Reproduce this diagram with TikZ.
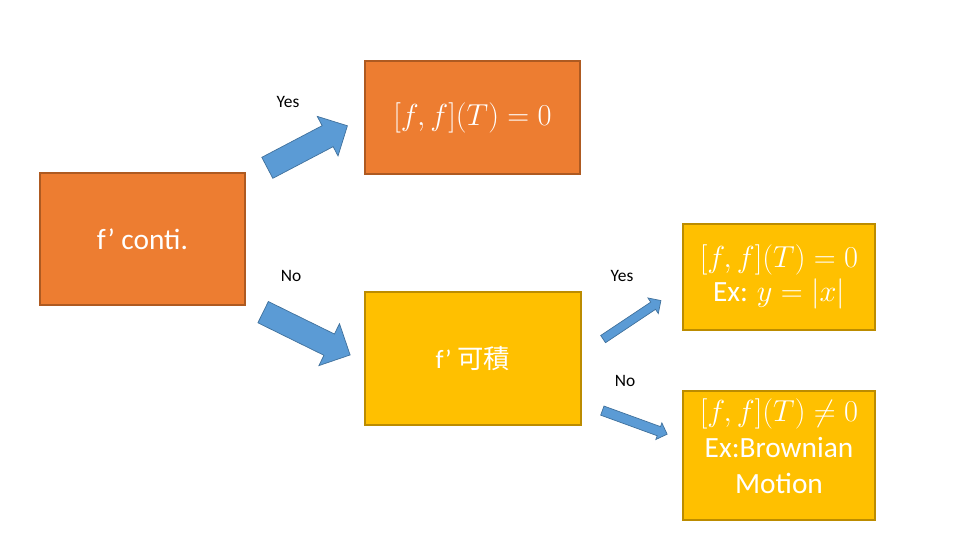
\documentclass[tikz,border=0pt]{standalone}
\usepackage{fontspec}
\setmainfont{Carlito}
\newfontfamily\cjk{Noto Sans CJK TC}
\usetikzlibrary{shapes.arrows}
\definecolor{boxorange}{HTML}{ED7D31}
\definecolor{edgeorange}{HTML}{AE5A21}
\definecolor{boxyellow}{HTML}{FFC000}
\definecolor{edgeyellow}{HTML}{BC8C00}
\definecolor{arrowblue}{HTML}{5B9BD5}
\definecolor{edgeblue}{HTML}{41719C}

\begin{document}
\begin{tikzpicture}[
  x=0.02cm, y=-0.02cm,
  obox/.style={draw=edgeorange, line width=0.8pt, fill=boxorange, text=white,
               align=center, inner sep=0pt},
  ybox/.style={draw=edgeyellow, line width=0.8pt, fill=boxyellow, text=white,
               align=center, inner sep=0pt},
  big/.style={font=\fontsize{16.7}{20}\selectfont},
  blockarrow/.style={single arrow, draw=edgeblue, line width=0.4pt, fill=arrowblue,
                     inner sep=0pt, text depth=0pt, anchor=tail},
  lbl/.style={font=\fontsize{9.9}{12}\selectfont, text=black, inner sep=1pt}
]
  \useasboundingbox (0,0) rectangle (960,540);

  % Boxes
  \node[obox, big, minimum width=4.10cm, minimum height=2.64cm] (cont) at (142.5,239) {f’ conti.};
  \node[obox, minimum width=4.30cm, minimum height=2.26cm, font=\fontsize{17}{20}\selectfont]
       (zero) at (472.5,117.5) {$[f,f](T)=0$};
  \node[ybox, minimum width=4.32cm, minimum height=2.66cm, font=\fontsize{15}{18}\selectfont]
       (integ) at (473,358.5) {f’ {\cjk 可積}};
  \node[ybox, minimum width=3.84cm, minimum height=2.12cm, font=\fontsize{16.7}{19.3}\selectfont]
       (absx) at (779,277) {$[f,f](T)=0$\\Ex: $y=|x|$};
  \node[ybox, minimum width=3.84cm, minimum height=2.58cm] (brown) at (779,455.5) {};
  \node[text=white, align=center, font=\fontsize{16.7}{20.4}\selectfont]
       (brownlbl) at (779,446) {$[f,f](T)\neq0$\\Ex:Brownian\\Motion};

  % Block arrows (shaft width from text height)
  \node[blockarrow, rotate=27.7, minimum height=1.81cm, text height=0.46cm,
        single arrow head extend=0.21cm] (yesA) at (267,168) {};
  \node[blockarrow, rotate=-26.2, minimum height=1.94cm, text height=0.46cm,
        single arrow head extend=0.23cm] (noA) at (262.8,312) {};
  \node[blockarrow, rotate=33.7, minimum height=1.39cm, text height=0.16cm,
        single arrow head extend=0.10cm] (yesB) at (602.8,339.3) {};
  \node[blockarrow, rotate=-20, minimum height=1.38cm, text height=0.18cm,
        single arrow head extend=0.08cm] (noB) at (602,410.5) {};

  % Labels
  \node[lbl] (yesAl) at (288,102) {Yes};
  \node[lbl] (noAl)  at (291,276) {No};
  \node[lbl] (yesBl) at (622,276) {Yes};
  \node[lbl] (noBl)  at (625,381) {No};
\end{tikzpicture}
\end{document}
